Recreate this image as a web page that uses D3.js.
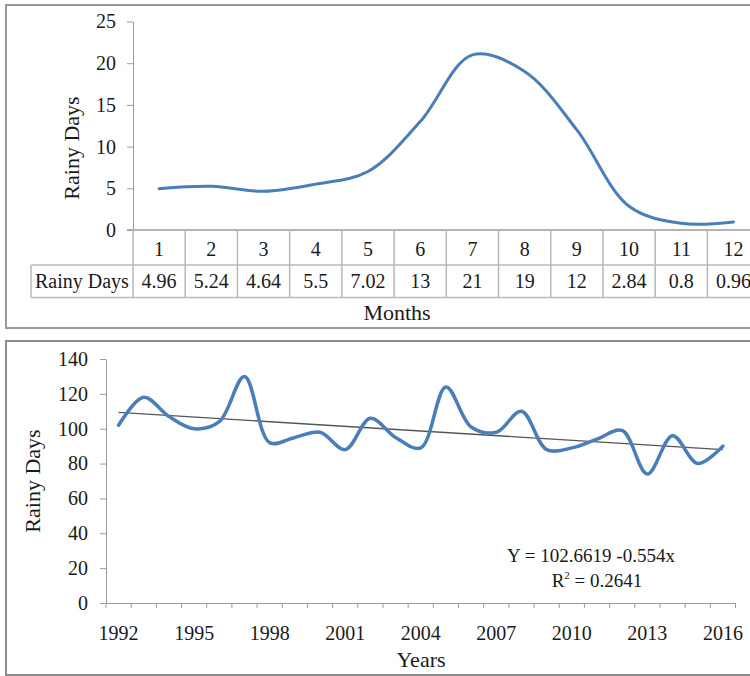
<!DOCTYPE html>
<html>
<head>
<meta charset="utf-8">
<script src="https://cdn.jsdelivr.net/npm/d3@7"></script>
<style>
  html, body { margin: 0; padding: 0; background: #fff; }
  svg { display: block; font-family: "Liberation Serif", "Times New Roman", serif; }
</style>
</head>
<body>
<svg id="chart" width="750" height="676"></svg>
<script>
// Monthly mean number of rainy days
const months = ["1", "2", "3", "4", "5", "6", "7", "8", "9", "10", "11", "12"];
const monthlyRainyDays = [4.96, 5.24, 4.64, 5.5, 7.02, 13, 21, 19, 12, 2.84, 0.8, 0.96];
const monthlyTicks = [0, 5, 10, 15, 20, 25];

// Annual number of rainy days
const years = ["1992", "1993", "1994", "1995", "1996", "1997", "1998", "1999", "2000",
  "2001", "2002", "2003", "2004", "2005", "2006", "2007", "2008", "2009", "2010",
  "2011", "2012", "2013", "2014", "2015", "2016"];
const annualRainyDays = [102, 118, 107, 100, 104, 130, 92, 95, 98, 88, 106, 95, 89,
  124, 101, 98, 110, 88, 89, 94, 99, 74, 96, 80, 90];
const annualTicks = [0, 20, 40, 60, 80, 100, 120, 140];
const yearLabels = ["1992", "1995", "1998", "2001", "2004", "2007", "2010", "2013", "2016"];

const equationText = "Y = 102.6619 -0.554x";
const rSquaredText = "0.2641";

const svg = d3.select("#chart");
const lineBlue = "#4a7ebb";
const gridGray = "#b8b8b8";
const axisGray = "#9a9a9a";
const textColor = "#1a1a1a";

// ---------- panel frames ----------
svg.append("rect").attr("x", 6).attr("y", 5).attr("width", 800).attr("height", 323)
  .attr("fill", "none").attr("stroke", "#999").attr("stroke-width", 2);
svg.append("rect").attr("x", 6).attr("y", 341).attr("width", 800).attr("height", 334)
  .attr("fill", "none").attr("stroke", "#8c8c8c").attr("stroke-width", 2);

// ---------- monthly chart ----------
const monthPanel = svg.append("g");
const xM = d3.scaleBand().domain(months).range([133, 759.6]).padding(0);
const yM = d3.scaleLinear().domain([0, 25]).range([230, 21.5]);
const bwM = xM.bandwidth();

const yAxisM = monthPanel.append("g").attr("transform", "translate(133,0)")
  .call(d3.axisLeft(yM).tickValues(monthlyTicks).tickSize(6).tickSizeOuter(0).tickPadding(11));
yAxisM.select(".domain").attr("stroke", axisGray);
yAxisM.selectAll(".tick line").attr("stroke", axisGray);
yAxisM.selectAll(".tick text").attr("font-size", 20).attr("fill", textColor)
  .attr("font-family", "Liberation Serif");

monthPanel.append("text")
  .attr("transform", "translate(79,148) rotate(-90)")
  .attr("text-anchor", "middle").attr("font-size", 22).attr("fill", textColor)
  .text("Rainy Days");

// data table under the plot
const rowTop = yM(0), rowMid = 265, rowBot = 297.5;
const tableLeft = 31, tableRight = xM.range()[1];
const table = monthPanel.append("g").attr("stroke", gridGray).attr("stroke-width", 1.5);
table.append("line").attr("x1", 127).attr("x2", tableRight).attr("y1", rowTop).attr("y2", rowTop)
  .attr("stroke", axisGray);
table.append("line").attr("x1", tableLeft).attr("x2", tableRight).attr("y1", rowMid).attr("y2", rowMid);
table.append("line").attr("x1", tableLeft).attr("x2", tableRight).attr("y1", rowBot).attr("y2", rowBot);
table.append("line").attr("x1", tableLeft).attr("x2", tableLeft).attr("y1", rowMid).attr("y2", rowBot);
table.selectAll("line.col").data(months.concat(["end"])).join("line").attr("class", "col")
  .attr("x1", d => d === "end" ? tableRight : xM(d))
  .attr("x2", d => d === "end" ? tableRight : xM(d))
  .attr("y1", rowTop).attr("y2", rowBot);

monthPanel.selectAll("text.month").data(months).join("text").attr("class", "month")
  .attr("x", d => xM(d) + bwM / 2).attr("y", 256)
  .attr("text-anchor", "middle").attr("font-size", 20).attr("fill", textColor)
  .text(d => d);
monthPanel.selectAll("text.val").data(monthlyRainyDays).join("text").attr("class", "val")
  .attr("x", (d, i) => xM(months[i]) + bwM / 2).attr("y", 288)
  .attr("text-anchor", "middle").attr("font-size", 20).attr("fill", textColor)
  .text(d => String(d));
monthPanel.append("text").attr("x", 35).attr("y", 288).attr("font-size", 20).attr("fill", textColor)
  .text("Rainy Days");

monthPanel.append("text").attr("x", 397).attr("y", 320).attr("text-anchor", "middle")
  .attr("font-size", 22).attr("fill", textColor).text("Months");

const lineM = d3.line()
  .x((d, i) => xM(months[i]) + bwM / 2)
  .y(d => yM(d))
  .curve(d3.curveCatmullRom.alpha(0.5));
monthPanel.append("path").datum(monthlyRainyDays).attr("d", lineM)
  .attr("fill", "none").attr("stroke", lineBlue).attr("stroke-width", 3)
  .attr("stroke-linecap", "round");

// ---------- annual chart ----------
const yearPanel = svg.append("g");
const xY = d3.scaleBand().domain(years).range([106, 735.5]).padding(0);
const yY = d3.scaleLinear().domain([0, 140]).range([603, 359]);
const bwY = xY.bandwidth();

const yAxisY = yearPanel.append("g").attr("transform", "translate(106,0)")
  .call(d3.axisLeft(yY).tickValues(annualTicks).tickSize(6).tickSizeOuter(0).tickPadding(12));
yAxisY.select(".domain").attr("stroke", axisGray);
yAxisY.selectAll(".tick line").attr("stroke", axisGray);
yAxisY.selectAll(".tick text").attr("font-size", 20).attr("fill", textColor)
  .attr("font-family", "Liberation Serif");

const xAxisY = yearPanel.append("g").attr("transform", "translate(0,603)")
  .call(d3.axisBottom(xY).tickValues(yearLabels).tickSize(0).tickSizeOuter(0).tickPadding(23));
xAxisY.select(".domain").attr("stroke", axisGray);
xAxisY.selectAll(".tick text").attr("font-size", 20).attr("fill", textColor)
  .attr("font-family", "Liberation Serif");

// tick marks on category boundaries
yearPanel.selectAll("line.ytick").data(years.concat(["end"])).join("line").attr("class", "ytick")
  .attr("x1", d => d === "end" ? xY.range()[1] : xY(d))
  .attr("x2", d => d === "end" ? xY.range()[1] : xY(d))
  .attr("y1", 603).attr("y2", 608)
  .attr("stroke", axisGray);

yearPanel.append("text")
  .attr("transform", "translate(40,481) rotate(-90)")
  .attr("text-anchor", "middle").attr("font-size", 22).attr("fill", textColor)
  .text("Rainy Days");
yearPanel.append("text").attr("x", 421).attr("y", 667).attr("text-anchor", "middle")
  .attr("font-size", 22).attr("fill", textColor).text("Years");

// least-squares trend of the annual series
const n = annualRainyDays.length;
const xs = d3.range(1, n + 1);
const mx = d3.mean(xs), my = d3.mean(annualRainyDays);
const sxy = d3.sum(xs, (x, i) => (x - mx) * (annualRainyDays[i] - my));
const sxx = d3.sum(xs, x => (x - mx) * (x - mx));
const slope = sxy / sxx, intercept = my - slope * mx;
yearPanel.append("line")
  .attr("x1", xY(years[0]) + bwY / 2).attr("y1", yY(intercept + slope * 1))
  .attr("x2", xY(years[n - 1]) + bwY / 2).attr("y2", yY(intercept + slope * n))
  .attr("stroke", "#555").attr("stroke-width", 1.3);

const lineY = d3.line()
  .x((d, i) => xY(years[i]) + bwY / 2)
  .y(d => yY(d))
  .curve(d3.curveCatmullRom.alpha(0.5));
yearPanel.append("path").datum(annualRainyDays).attr("d", lineY)
  .attr("fill", "none").attr("stroke", lineBlue).attr("stroke-width", 3.5)
  .attr("stroke-linecap", "round");

// regression annotation
yearPanel.append("text").attr("x", 591).attr("y", 562).attr("text-anchor", "middle")
  .attr("font-size", 19).attr("fill", textColor).text(equationText);
const r2 = yearPanel.append("text").attr("x", 597).attr("y", 587).attr("text-anchor", "middle")
  .attr("font-size", 19).attr("fill", textColor);
r2.append("tspan").text("R");
r2.append("tspan").attr("font-size", 11).attr("dy", -8).text("2");
r2.append("tspan").attr("dy", 8).text(" = " + rSquaredText);
</script>
</body>
</html>
